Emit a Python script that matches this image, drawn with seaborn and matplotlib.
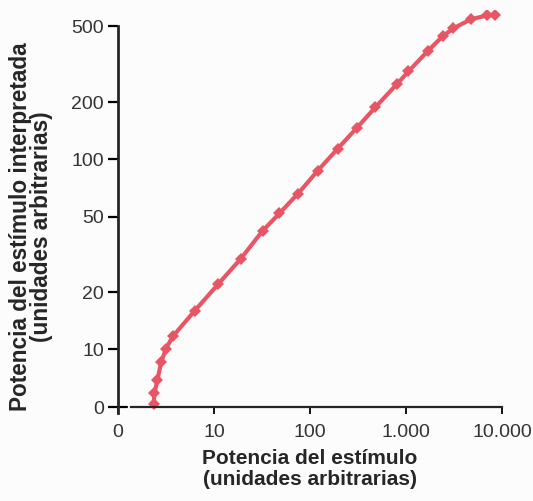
import numpy as np
import pandas as pd
import seaborn as sns
import matplotlib.pyplot as plt

# values (arbitrary units)
estimulo = [3.7, 3.8, 4.1, 4.5, 5.0, 5.7, 8.0, 11, 19, 32, 48, 75, 120, 195,
            310, 480, 800, 1060, 1700, 2400, 3100, 4700, 7000, 8500]
interpretada = [0.5, 2.4, 4.7, 7.8, 10.1, 11.7, 16, 22, 30, 42, 52, 66, 87, 114,
                147, 188, 248, 290, 373, 443, 488, 544, 572, 572]

x_ticks = [0, 10, 100, 1000, 10000]
x_labels = ["0", "10", "100", "1.000", "10.000"]
y_ticks = [0, 10, 20, 50, 100, 200, 500]
y_labels = ["0", "10", "20", "50", "100", "200", "500"]

df = pd.DataFrame({"x": estimulo, "y": interpretada})

sns.set_style("white")
plt.rcParams["font.family"] = ["Liberation Sans", "DejaVu Sans"]


# log axes with a linear stretch between 0 and 10 (axis break at the origin)
def x_fwd(v):
    v = np.asarray(v, dtype=float)
    return np.where(v < 10, v / 10, np.log10(np.maximum(v, 1e-9)))


def x_inv(p):
    p = np.asarray(p, dtype=float)
    return np.where(p < 1, p * 10, 10 ** p)


Y0 = 0.696  # decade position of the "0" label


def y_fwd(v):
    v = np.asarray(v, dtype=float)
    return np.where(v < 10, Y0 + (1 - Y0) * v / 10, np.log10(np.maximum(v, 1e-9)))


def y_inv(p):
    p = np.asarray(p, dtype=float)
    return np.where(p < 1, (p - Y0) / (1 - Y0) * 10, 10 ** p)


fig = plt.figure(figsize=(5.33, 5.01), dpi=100)
fig.patch.set_facecolor("#fcfcfc")
ax = fig.add_axes([0.2214, 0.1756, 0.7205, 0.8044])
ax.set_facecolor("#fcfcfc")

ax.set_xscale("function", functions=(x_fwd, x_inv))
ax.set_yscale("function", functions=(y_fwd, y_inv))

sns.lineplot(data=df, x="x", y="y", ax=ax, color="#e85565", linewidth=3,
             marker="D", markersize=6, markeredgewidth=0, sort=False)

ax.set_xlim(0, 10000)
ax.set_ylim(-1, 610)

ax.set_xticks(x_ticks)
ax.set_xticklabels(x_labels)
ax.set_yticks(y_ticks)
ax.set_yticklabels(y_labels)
ax.minorticks_off()

for s in ["top", "right"]:
    ax.spines[s].set_visible(False)
ax.spines["left"].set_linewidth(2.0)
ax.spines["left"].set_bounds(-1, 500)
ax.spines["bottom"].set_linewidth(1.6)
ax.spines["bottom"].set_position(("data", 0))
ax.spines["bottom"].set_bounds(1.4, 10000)
# short stub left of the break
ax.plot([0, 0.9], [0, 0], color="black", linewidth=1.6, clip_on=False)

ax.tick_params(axis="y", left=True, direction="out", length=7, width=1.6, pad=3,
               labelsize=14, colors="black")
ax.tick_params(axis="x", bottom=True, direction="out", length=5, width=1.3, pad=7,
               labelsize=14, colors="black")
for lab in ax.get_xticklabels() + ax.get_yticklabels():
    lab.set_color("#333333")

ax.set_xlabel("Potencia del estímulo\n(unidades arbitrarias)", fontsize=15,
              fontweight="bold", labelpad=6, linespacing=1.1)
ax.set_ylabel("Potencia del estímulo interpretada\n(unidades arbitrarias)",
              fontsize=16.3, fontweight="bold", linespacing=0.9)
ax.yaxis.set_label_coords(-0.17, 0.463)

fig.savefig("out.png", dpi=100, facecolor=fig.get_facecolor())
